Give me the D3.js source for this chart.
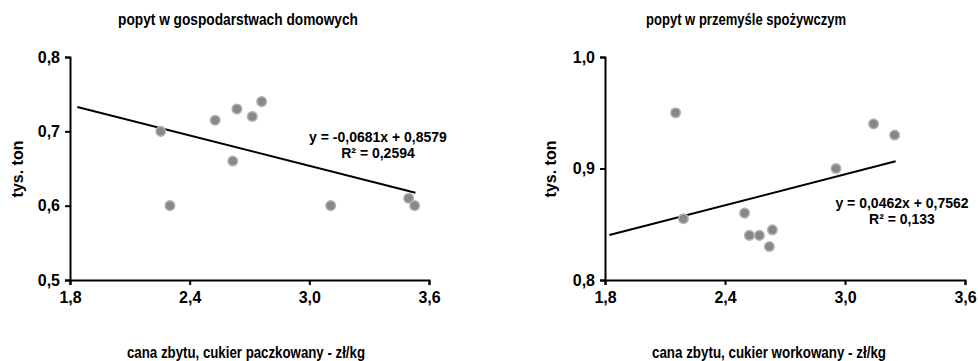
<!DOCTYPE html>
<html>
<head>
<meta charset="utf-8">
<script src="https://cdn.jsdelivr.net/npm/d3@7"></script>
<style>
  body { margin: 0; background: #fff; }
  text { font-family: "Liberation Sans", Arial, sans-serif; font-weight: bold; fill: #000; }
</style>
</head>
<body>
<div id="chart"></div>
<script>
// household demand vs packaged sugar price
const leftPrice = [2.255, 2.301, 2.528, 2.637, 2.616, 2.714, 2.761, 3.107, 3.498, 3.528];
const leftDemand = [0.70, 0.60, 0.715, 0.73, 0.66, 0.72, 0.74, 0.60, 0.61, 0.60];
// food industry demand vs bagged sugar price
const rightPrice = [2.153, 2.192, 2.498, 2.522, 2.572, 2.637, 2.622, 2.955, 3.143, 3.248];
const rightDemand = [0.95, 0.855, 0.86, 0.84, 0.84, 0.845, 0.83, 0.90, 0.94, 0.93];

const xTicks = [1.8, 2.4, 3.0, 3.6];
const leftYTicks = [0.5, 0.6, 0.7, 0.8];
const rightYTicks = [0.8, 0.9, 1.0];

const leftTrend = { slope: -0.0681, icept: 0.8579, from: 1.837, to: 3.532 };
const rightTrend = { slope: 0.0462, icept: 0.7562, from: 1.822, to: 3.253 };

const panels = [
  {
    title: 'popyt w gospodarstwach domowych', titleX: 238, titleW: 240,
    xLabel: 'cana zbytu, cukier paczkowany - zł/kg', xLabelX: 246, xLabelW: 238,
    x0: 70, x1: 429, yDomain: [0.5, 0.8], yTicks: leftYTicks,
    px: leftPrice, py: leftDemand, trend: leftTrend,
    eq: ['y = -0,0681x + 0,8579', 'R² = 0,2594'], eqX: 378, eqY: 142,
    yTitleX: 17
  },
  {
    title: 'popyt w przemyśle spożywczym', titleX: 746, titleW: 200,
    xLabel: 'cana zbytu, cukier workowany - zł/kg', xLabelX: 769, xLabelW: 234,
    x0: 605, x1: 965, yDomain: [0.8, 1.0], yTicks: rightYTicks,
    px: rightPrice, py: rightDemand, trend: rightTrend,
    eq: ['y = 0,0462x + 0,7562', 'R² = 0,133'], eqX: 902, eqY: 208,
    yTitleX: 550
  }
];

const W = 978, H = 361;
const plotTop = 57, plotBottom = 280;
const fmt = d => d3.format('.1f')(d).replace('.', ',');

const svg = d3.select('#chart').append('svg')
  .attr('width', W)
  .attr('height', H);

panels.forEach(p => {
  const x = d3.scaleLinear().domain([1.8, 3.6]).range([p.x0, p.x1]);
  const y = d3.scaleLinear().domain(p.yDomain).range([plotBottom, plotTop]);
  const g = svg.append('g');

  // axes
  const gX = g.append('g')
    .attr('transform', 'translate(0,' + plotBottom + ')')
    .call(d3.axisBottom(x).tickValues(xTicks).tickFormat(fmt).tickSize(5).tickPadding(7));
  const gY = g.append('g')
    .attr('transform', 'translate(' + p.x0 + ',0)')
    .call(d3.axisLeft(y).tickValues(p.yTicks).tickFormat(fmt).tickSize(5).tickPadding(5));

  [gX, gY].forEach(a => {
    a.select('.domain').attr('stroke', '#000').attr('stroke-width', 2);
    a.selectAll('.tick line').attr('stroke', '#000').attr('stroke-width', 2);
    a.selectAll('.tick text')
      .style('font-size', '16px')
      .style('font-family', '"Liberation Sans", Arial, sans-serif')
      .style('font-weight', 'bold')
      .attr('fill', '#000');
  });

  // trend line
  const t = p.trend;
  g.append('line')
    .attr('x1', x(t.from)).attr('y1', y(t.icept + t.slope * t.from))
    .attr('x2', x(t.to)).attr('y2', y(t.icept + t.slope * t.to))
    .attr('stroke', '#000')
    .attr('stroke-width', 2);

  // points
  g.selectAll('circle.pt')
    .data(p.px.map((v, i) => [v, p.py[i]]))
    .enter()
    .append('circle')
    .attr('class', 'pt')
    .attr('cx', d => x(d[0]))
    .attr('cy', d => y(d[1]))
    .attr('r', 4.8)
    .attr('fill', '#888')
    .attr('stroke', '#b4b4b4')
    .attr('stroke-width', 1.5);

  // equation
  const eq = g.append('text')
    .attr('x', p.eqX).attr('y', p.eqY)
    .attr('text-anchor', 'middle')
    .style('font-size', '14px');
  eq.append('tspan').attr('x', p.eqX).attr('dy', 0).text(p.eq[0]);
  eq.append('tspan').attr('x', p.eqX).attr('dy', 16).text(p.eq[1]);

  // titles (condensed face in the original, so squeeze to its width)
  g.append('text')
    .attr('x', p.titleX).attr('y', 25)
    .attr('text-anchor', 'middle')
    .attr('textLength', p.titleW)
    .attr('lengthAdjust', 'spacingAndGlyphs')
    .style('font-size', '17px')
    .text(p.title);

  g.append('text')
    .attr('x', p.xLabelX).attr('y', 358)
    .attr('text-anchor', 'middle')
    .attr('textLength', p.xLabelW)
    .attr('lengthAdjust', 'spacingAndGlyphs')
    .style('font-size', '17px')
    .text(p.xLabel);

  g.append('text')
    .attr('transform', 'translate(' + (p.yTitleX + 6) + ',' + 169 + ') rotate(-90)')
    .attr('text-anchor', 'middle')
    .style('font-size', '16px')
    .text('tys. ton');
});
</script>
</body>
</html>
